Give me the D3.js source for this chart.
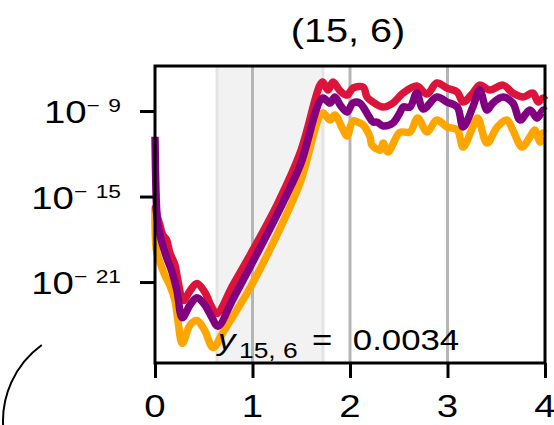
<!DOCTYPE html>
<html>
<head>
<meta charset="utf-8">
<script src="https://cdn.jsdelivr.net/npm/d3@7"></script>
<style>
  body { margin: 0; background: #fff; }
  svg { display: block; font-family: "Liberation Sans", Arial, sans-serif; }
</style>
</head>
<body>
<svg id="chart" width="554" height="425"></svg>
<script>
// data: [t, log10(value)]
var redSeries = [
  [0.005,-15.6],[0.02,-16.3],[0.05,-17.0],[0.08,-17.7],[0.12,-18.05],[0.15,-18.9],
  [0.205,-19.8],[0.235,-20.9],[0.29,-22.3],[0.36,-21.6],[0.43,-21.1],[0.51,-21.7],
  [0.585,-22.8],[0.635,-23.2],[0.8,-21.2],[0.975,-19.1],[1.25,-15.6],[1.49,-11.9],[1.69,-7.2],
  [1.72,-6.96],[1.775,-7.53],[1.825,-6.96],[1.9,-7.6],[1.97,-7.88],[2.03,-7.39],
  [2.135,-7.32],[2.175,-8.02],[2.235,-8.37],[2.34,-8.72],[2.44,-8.44],[2.545,-7.74],
  [2.685,-7.25],[2.79,-7.81],[2.89,-7.03],[2.995,-7.39],[3.1,-7.67],[3.16,-8.37],
  [3.26,-7.74],[3.33,-7.18],[3.435,-7.53],[3.57,-7.18],[3.67,-7.74],[3.775,-8.02],
  [3.875,-7.74],[3.93,-8.37],[3.98,-8.09],[4.0,-8.23]
];
var purpleSeries = [
  [0.0,-10.8],[0.015,-15.6],[0.03,-17.0],[0.07,-18.2],[0.12,-19.3],[0.17,-20.2],
  [0.225,-21.6],[0.28,-23.5],[0.36,-22.6],[0.43,-22.1],[0.51,-22.6],[0.585,-23.5],
  [0.645,-24.1],[0.8,-22.2],[0.975,-19.95],[1.25,-16.3],[1.49,-12.8],[1.72,-8.09],[1.795,-8.44],
  [1.845,-8.02],[1.9,-8.58],[1.97,-9.07],[2.03,-8.44],[2.1,-8.44],[2.185,-9.28],
  [2.235,-9.77],[2.275,-9.77],[2.34,-10.05],[2.44,-9.84],[2.51,-9.14],[2.545,-8.72],
  [2.615,-8.72],[2.685,-7.74],[2.75,-8.86],[2.89,-8.02],[2.995,-8.37],[3.1,-8.72],
  [3.16,-10.12],[3.26,-8.72],[3.33,-7.53],[3.405,-8.93],[3.465,-8.44],[3.57,-8.02],
  [3.67,-8.44],[3.745,-9.63],[3.845,-8.93],[3.92,-9.49],[3.98,-8.93],[4.0,-9.0]
];
var orangeSeries = [
  [0.0,-15.74],[0.015,-18.8],[0.05,-19.6],[0.10,-20.5],[0.15,-21.2],[0.205,-22.3],
  [0.235,-23.7],[0.28,-25.3],[0.36,-24.0],[0.43,-23.7],[0.51,-24.4],[0.595,-25.6],
  [0.70,-24.5],[0.975,-21.4],[1.25,-17.7],[1.49,-14.0],[1.72,-9.14],[1.795,-9.63],
  [1.845,-9.28],[1.92,-10.19],[1.97,-10.75],[2.03,-9.7],[2.1,-9.84],[2.135,-9.98],
  [2.205,-10.82],[2.225,-11.39],[2.31,-11.74],[2.34,-11.25],[2.39,-11.88],[2.51,-10.5],
  [2.615,-10.47],[2.695,-9.49],[2.79,-10.47],[2.89,-9.63],[2.995,-10.12],[3.1,-10.33],
  [3.16,-11.53],[3.26,-10.12],[3.31,-9.49],[3.405,-11.25],[3.51,-10.12],[3.61,-9.63],
  [3.67,-10.33],[3.765,-11.53],[3.845,-10.82],[3.895,-10.33],[3.95,-11.18],[3.98,-10.54],
  [4.0,-10.6]
];
var xTicks = [0, 1, 2, 3, 4];
var yTickExps = [-9, -15, -21];
var bandRange = [0.636, 1.723];
var titleText = "(15, 6)";
var annotValue = "0.0034";

// layout
var margin = {left: 155, right: 9, top: 66, bottom: 62};
var W = 554, H = 425;
var sx = 1.2; // text in the picture is stretched horizontally

var svg = d3.select("#chart");
var x = d3.scaleLinear().domain([0, 4]).range([margin.left, W - margin.right]);
var y = d3.scaleLog().domain([Math.pow(10, -26.68), Math.pow(10, -5.84)])
  .range([H - margin.bottom, margin.top]);
var y0 = H - margin.bottom, y1 = margin.top;

// shaded band
svg.append("rect")
  .attr("x", x(bandRange[0])).attr("y", y1)
  .attr("width", x(bandRange[1]) - x(bandRange[0])).attr("height", y0 - y1)
  .attr("fill", "#f2f2f2");
svg.selectAll("line.band").data(bandRange).join("line")
  .attr("x1", d => x(d)).attr("x2", d => x(d))
  .attr("y1", y1).attr("y2", y0)
  .attr("stroke", "#e4e4e4").attr("stroke-width", 3);

// grid lines
svg.selectAll("line.grid").data([1, 2, 3]).join("line")
  .attr("x1", d => x(d)).attr("x2", d => x(d))
  .attr("y1", y1).attr("y2", y0)
  .attr("stroke", "#b5b5b5").attr("stroke-width", 3);

// curves
var line = d3.line()
  .x(d => x(d[0]))
  .y(d => y(Math.pow(10, d[1])))
  .curve(d3.curveCatmullRom.alpha(0.5));

[[orangeSeries, "#ffa500"], [redSeries, "#dc143c"], [purpleSeries, "#800080"]]
  .forEach(function (s) {
    svg.append("path").datum(s[0])
      .attr("d", line)
      .attr("fill", "none")
      .attr("stroke", s[1])
      .attr("stroke-width", 7.5)
      .attr("stroke-linejoin", "round")
      .attr("stroke-linecap", "butt");
  });

// frame
svg.append("rect")
  .attr("x", x(0)).attr("y", y1)
  .attr("width", x(4) - x(0)).attr("height", y0 - y1)
  .attr("fill", "none").attr("stroke", "#000").attr("stroke-width", 3);

// x axis ticks
var xAxis = d3.axisBottom(x).tickValues(xTicks).tickSize(15).tickFormat("");
var gx = svg.append("g").attr("transform", `translate(0,${y0})`).call(xAxis);
gx.select(".domain").remove();
gx.selectAll(".tick line").attr("stroke", "#000").attr("stroke-width", 3);
svg.selectAll("g.xlab").data(xTicks).join("g")
  .attr("transform", d => `translate(${x(d)},417) scale(${sx},1)`)
  .append("text")
  .attr("text-anchor", "middle")
  .attr("font-size", 32)
  .text(d => d);

// y axis ticks
var yAxis = d3.axisLeft(y).tickValues(yTickExps.map(e => Math.pow(10, e))).tickSize(15).tickFormat("");
var gy = svg.append("g").attr("transform", `translate(${x(0)},0)`).call(yAxis);
gy.select(".domain").remove();
gy.selectAll(".tick line").attr("stroke", "#000").attr("stroke-width", 3);
var ylab = svg.selectAll("g.ylab").data(yTickExps).join("g")
  .attr("transform", d => `translate(121,${y(Math.pow(10, d)) + 12}) scale(${sx},1)`)
  .append("text")
  .attr("text-anchor", "end");
ylab.append("tspan").attr("font-size", 32).text("10");
ylab.append("tspan").attr("font-size", 19).attr("dy", -11).text("\u2212");
ylab.append("tspan").attr("font-size", 19).attr("dx", 7).text(d => Math.abs(d));

// title
svg.append("g")
  .attr("transform", `translate(${(x(0) + x(4)) / 2 - 2},42) scale(${sx},1)`)
  .append("text")
  .attr("text-anchor", "middle")
  .attr("font-size", 33)
  .text(titleText);

// annotation
var ann = svg.append("g")
  .attr("transform", `translate(218,350) scale(${sx},1)`)
  .append("text");
ann.append("tspan").attr("font-size", 29).attr("font-style", "italic").text("y");
ann.append("tspan").attr("font-size", 22).attr("dy", 8).attr("dx", 3).text("15, 6");
ann.append("tspan").attr("font-size", 29).attr("dy", -8).attr("dx", 12).text("=");
ann.append("tspan").attr("font-size", 29).attr("dx", 17).text(annotValue);

// stray arc at lower left
var p = d3.path();
p.arc(97, 421, 94, Math.PI * 1.30, Math.PI * 0.97, true);
svg.append("path").attr("d", p.toString())
  .attr("fill", "none").attr("stroke", "#000").attr("stroke-width", 2);
</script>
</body>
</html>
